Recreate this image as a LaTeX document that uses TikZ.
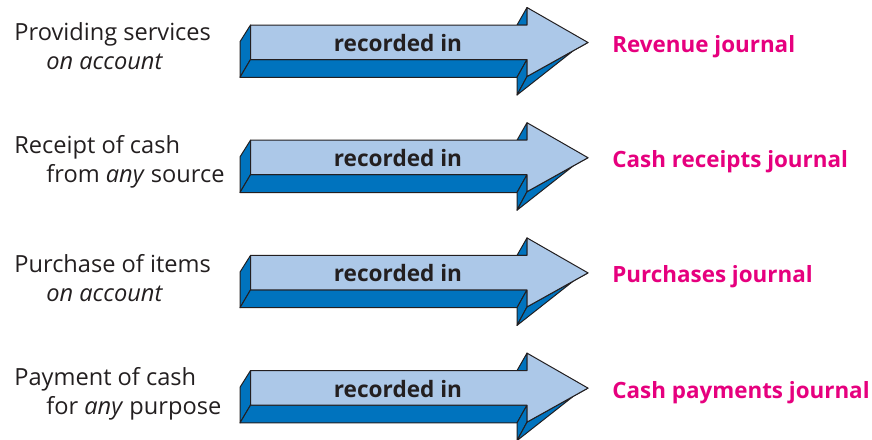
\documentclass[tikz,border=0pt]{standalone}
\usepackage{fontspec}
\setmainfont{Open Sans}
\usetikzlibrary{positioning}

\definecolor{facelight}{RGB}{172,200,232}
\definecolor{sidedark}{RGB}{0,115,190}
\definecolor{journalpink}{RGB}{230,0,126}
\definecolor{inkgray}{RGB}{35,31,32}

\tikzset{
  side/.style={fill=sidedark, draw=inkgray, line width=0.5pt, line join=round},
  face/.style={fill=facelight, draw=inkgray, line width=0.5pt, line join=round},
  pics/bigarrow/.style={code={
    % dark sides, seen below and left of the face
    \filldraw[side] (250.5,25) -- (240,41.7) -- (240,77.3) -- (250.5,59.5) -- cycle;
    \filldraw[side] (250.5,59.5) -- (240,77.3) -- (517,77.3) -- (527,59.5) -- cycle;
    \filldraw[side] (527,59.5) -- (517,77.3) -- (517,95) -- (527,76.5) -- cycle;
    \filldraw[side] (527,76.5) -- (517,95) -- (578,47) -- (588,42.5) -- cycle;
    \filldraw[side] (527,7.5) -- (517,25) -- (527,25) -- cycle;
    % light front face
    \filldraw[face] (250.5,25) -- (527,25) -- (527,7.5) -- (588,42.5)
      -- (527,76.5) -- (527,59.5) -- (250.5,59.5) -- cycle;
    \node[arrowtext] (-text) at (398,43) {recorded in};
  }},
  arrowtext/.style={font=\fontsize{11.3}{12}\selectfont\bfseries, text=inkgray, inner sep=0pt},
  source/.style={anchor=west, align=left, inner sep=0pt, text=inkgray,
    font=\fontsize{11.8}{14.5}\selectfont},
  journal/.style={anchor=west, inner sep=0pt, text=journalpink,
    font=\fontsize{11.2}{12}\selectfont\bfseries}
}

\begin{document}
\begin{tikzpicture}[x=0.5pt, y=-0.5pt]
  \useasboundingbox (0,0) rectangle (872,439);

  % Row 1: revenue
  \pic (arr1) at (0,0) {bigarrow};
  \node[source] (src1) at (14,46.5)
    {Providing services\\\hspace*{16pt}\textit{on account}};
  \node[journal] (jrn1) at (612,47) {Revenue journal};

  % Row 2: cash receipts
  \pic (arr2) at (0,115.2) {bigarrow};
  \node[source] (src2) at (14,161.5)
    {Receipt of cash\\\hspace*{16pt}from \textit{any} source};
  \node[journal] (jrn2) at (612,161.5) {Cash receipts journal};

  % Row 3: purchases
  \pic (arr3) at (0,230.4) {bigarrow};
  \node[source] (src3) at (14,278)
    {Purchase of items\\\hspace*{16pt}\textit{on account}};
  \node[journal] (jrn3) at (612,277) {Purchases journal};

  % Row 4: cash payments
  \pic (arr4) at (0,345.6) {bigarrow};
  \node[source] (src4) at (14,394)
    {Payment of cash\\\hspace*{16pt}for \textit{any} purpose};
  \node[journal] (jrn4) at (612,393) {Cash payments journal};
\end{tikzpicture}
\end{document}
